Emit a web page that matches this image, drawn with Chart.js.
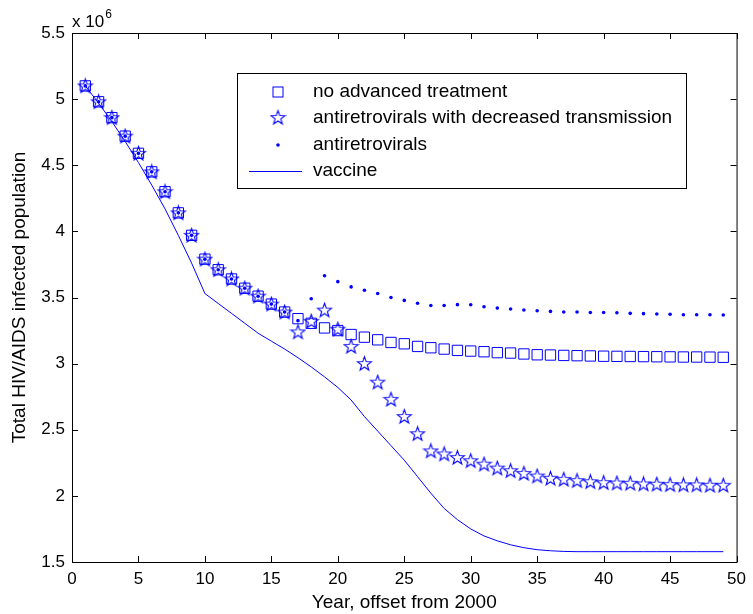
<!DOCTYPE html>
<html>
<head>
<meta charset="utf-8">
<script src="https://cdn.jsdelivr.net/npm/chart.js@4"></script>
<style>
  body { margin: 0; background: #fff; }
  #wrap { width: 753px; height: 614px; }
</style>
</head>
<body>
<div id="wrap"><canvas id="hivChart" width="753" height="614"></canvas></div>
<script>
// years after 2000
const years = [1, 2, 3, 4, 5, 6, 7, 8, 9, 10, 11, 12, 13, 14, 15, 16, 17, 18, 19, 20,
    21, 22, 23, 24, 25, 26, 27, 28, 29, 30, 31, 32, 33, 34, 35, 36, 37, 38, 39, 40,
    41, 42, 43, 44, 45, 46, 47, 48, 49];

// infected population, x 10^6
const noTreatment = [5.10, 4.98, 4.86, 4.72, 4.59, 4.45, 4.30, 4.14, 3.97, 3.79,
    3.71, 3.64, 3.57, 3.51, 3.45, 3.39, 3.34, 3.305, 3.27, 3.25,
    3.22, 3.20, 3.18, 3.16, 3.15, 3.13, 3.12, 3.11, 3.10, 3.095,
    3.09, 3.083, 3.08, 3.073, 3.067, 3.065, 3.062, 3.06, 3.058, 3.056,
    3.055, 3.054, 3.053, 3.052, 3.051, 3.05, 3.05, 3.049, 3.048];

const arvDecreased = [5.10, 4.98, 4.86, 4.72, 4.59, 4.45, 4.30, 4.14, 3.97, 3.79,
    3.71, 3.64, 3.57, 3.51, 3.45, 3.39, 3.24, 3.32, 3.405, 3.26,
    3.13, 3.00, 2.86, 2.73, 2.60, 2.47, 2.34, 2.317, 2.29, 2.266,
    2.24, 2.21, 2.19, 2.17, 2.15, 2.133, 2.125, 2.115, 2.107, 2.10,
    2.097, 2.095, 2.09, 2.088, 2.085, 2.083, 2.083, 2.08, 2.08];

const arv = [5.10, 4.98, 4.86, 4.72, 4.59, 4.45, 4.30, 4.14, 3.97, 3.79,
    3.71, 3.64, 3.57, 3.51, 3.45, 3.39, 3.325, 3.49, 3.665, 3.62,
    3.58, 3.555, 3.53, 3.50, 3.478, 3.456, 3.44, 3.44, 3.446, 3.445,
    3.43, 3.42, 3.413, 3.405, 3.40, 3.395, 3.39, 3.39, 3.387, 3.387,
    3.385, 3.38, 3.378, 3.375, 3.373, 3.37, 3.37, 3.37, 3.368];

const vaccine = [5.10, 4.97, 4.83, 4.68, 4.52, 4.35, 4.17, 3.97, 3.76, 3.53,
    3.455, 3.38, 3.305, 3.23, 3.17, 3.11, 3.045, 2.975, 2.90, 2.82,
    2.725, 2.60, 2.49, 2.38, 2.27, 2.145, 2.02, 1.905, 1.82, 1.75,
    1.697, 1.66, 1.63, 1.608, 1.593, 1.585, 1.58, 1.578, 1.578, 1.578,
    1.578, 1.578, 1.578, 1.578, 1.578, 1.578, 1.578, 1.578, 1.578];

const xTicks = [0, 5, 10, 15, 20, 25, 30, 35, 40, 45, 50];
const yTicks = [1.5, 2, 2.5, 3, 3.5, 4, 4.5, 5, 5.5];

const seriesLabels = ['no advanced treatment', 'antiretrovirals with decreased transmission',
    'antiretrovirals', 'vaccine'];

const BLUE = '#0000ff';
const FONT = 'Liberation Sans, Arial, Helvetica, sans-serif';

// five-pointed star marker (Chart.js 'star' is an asterisk)
function makeStar() {
    const c = document.createElement('canvas');
    c.width = 17; c.height = 17;
    const g = c.getContext('2d');
    g.strokeStyle = BLUE;
    g.lineWidth = 1.1;
    g.beginPath();
    for (let i = 0; i < 10; i++) {
        const r = i % 2 === 0 ? 7.4 : 3.0;
        const a = -Math.PI / 2 + i * Math.PI / 5;
        const px = 8.5 + r * Math.cos(a);
        const py = 9 + r * Math.sin(a);
        if (i === 0) g.moveTo(px, py); else g.lineTo(px, py);
    }
    g.closePath();
    g.stroke();
    return c;
}
const starImg = makeStar();

function toPoints(values) {
    return years.map((yr, i) => ({ x: yr, y: values[i] }));
}

// caja, marcas interiores, leyenda y exponente
const framePlugin = {
    id: 'frame',
    afterDraw(chart) {
        const { ctx, chartArea: a } = chart;
        const sx = chart.scales.x;
        const sy = chart.scales.y;
        ctx.save();
        ctx.strokeStyle = '#000';
        ctx.lineWidth = 1;
        ctx.strokeRect(a.left + 0.5, a.top + 0.5, a.right - a.left, a.bottom - a.top);

        ctx.beginPath();
        xTicks.forEach(v => {
            const px = Math.round(sx.getPixelForValue(v)) + 0.5;
            ctx.moveTo(px, a.bottom); ctx.lineTo(px, a.bottom - 6);
            ctx.moveTo(px, a.top); ctx.lineTo(px, a.top + 6);
        });
        yTicks.forEach(v => {
            const py = Math.round(sy.getPixelForValue(v)) + 0.5;
            ctx.moveTo(a.left, py); ctx.lineTo(a.left + 6, py);
            ctx.moveTo(a.right, py); ctx.lineTo(a.right - 6, py);
        });
        ctx.stroke();

        // x 10^6
        ctx.fillStyle = '#000';
        ctx.textBaseline = 'alphabetic';
        ctx.textAlign = 'left';
        ctx.font = '17px ' + FONT;
        const base = 'x 10';
        ctx.fillText(base, 72, 27);
        const w = ctx.measureText(base).width;
        ctx.font = '12px ' + FONT;
        ctx.fillText('6', 72 + w + 1, 18);

        // leyenda
        const bx = 237, by = 73, bw = 449, bh = 115;
        ctx.fillStyle = '#fff';
        ctx.fillRect(bx, by, bw, bh);
        ctx.strokeStyle = '#000';
        ctx.strokeRect(bx + 0.5, by + 0.5, bw, bh);
        const rows = [92, 118, 145, 171];
        const mx = 278;
        ctx.strokeStyle = BLUE;
        ctx.lineWidth = 1;
        ctx.strokeRect(mx - 5, rows[0] - 5, 10, 10);
        ctx.drawImage(starImg, mx - 8.5, rows[1] - 9);
        ctx.fillStyle = BLUE;
        ctx.beginPath();
        ctx.arc(mx, rows[2], 1.8, 0, Math.PI * 2);
        ctx.fill();
        ctx.beginPath();
        ctx.moveTo(249, rows[3] + 0.5);
        ctx.lineTo(302, rows[3] + 0.5);
        ctx.stroke();

        ctx.fillStyle = '#000';
        ctx.font = '19px ' + FONT;
        ctx.textBaseline = 'middle';
        seriesLabels.forEach((lbl, i) => ctx.fillText(lbl, 313, rows[i]));
        ctx.restore();
    }
};

const ctx = document.getElementById('hivChart');
new Chart(ctx, {
    type: 'scatter',
    data: {
        datasets: [{
            label: seriesLabels[0],
            data: toPoints(noTreatment),
            pointStyle: 'rect',
            pointRadius: 7.3,
            borderColor: BLUE,
            backgroundColor: 'rgba(0,0,0,0)',
            borderWidth: 1
        }, {
            label: seriesLabels[1],
            data: toPoints(arvDecreased),
            pointStyle: starImg,
            pointRadius: 8
        }, {
            label: seriesLabels[2],
            data: toPoints(arv),
            pointStyle: 'circle',
            pointRadius: 1.8,
            borderWidth: 0,
            backgroundColor: BLUE
        }, {
            label: seriesLabels[3],
            data: toPoints(vaccine),
            showLine: true,
            pointRadius: 0,
            borderColor: BLUE,
            borderWidth: 1,
            tension: 0
        }]
    },
    options: {
        responsive: false,
        animation: false,
        events: [],
        layout: { padding: { top: 33, right: 11, left: 0, bottom: 0 } },
        plugins: {
            legend: { display: false },
            tooltip: { enabled: false }
        },
        scales: {
            x: {
                type: 'linear',
                min: 0,
                max: 50,
                afterBuildTicks: scale => { scale.ticks = xTicks.map(v => ({ value: v })); },
                afterFit: scale => { scale.height = 52; },
                grid: { display: false, drawTicks: false },
                border: { display: false },
                ticks: {
                    color: '#000',
                    padding: 7,
                    maxRotation: 0,
                    font: { family: FONT, size: 17 },
                    callback: v => String(v)
                },
                title: {
                    display: true,
                    text: 'Year, offset from 2000',
                    color: '#000',
                    font: { family: FONT, size: 19 },
                    padding: { top: 0, bottom: 0 }
                }
            },
            y: {
                type: 'linear',
                min: 1.5,
                max: 5.5,
                afterBuildTicks: scale => { scale.ticks = yTicks.map(v => ({ value: v })); },
                afterFit: scale => { scale.width = 72; },
                grid: { display: false, drawTicks: false },
                border: { display: false },
                ticks: {
                    color: '#000',
                    padding: 7,
                    font: { family: FONT, size: 17 },
                    callback: v => String(v)
                },
                title: {
                    display: true,
                    text: 'Total HIV/AIDS infected population',
                    color: '#000',
                    font: { family: FONT, size: 19 },
                    padding: { top: 8, bottom: 0 }
                }
            }
        }
    },
    plugins: [framePlugin]
});
</script>
</body>
</html>
